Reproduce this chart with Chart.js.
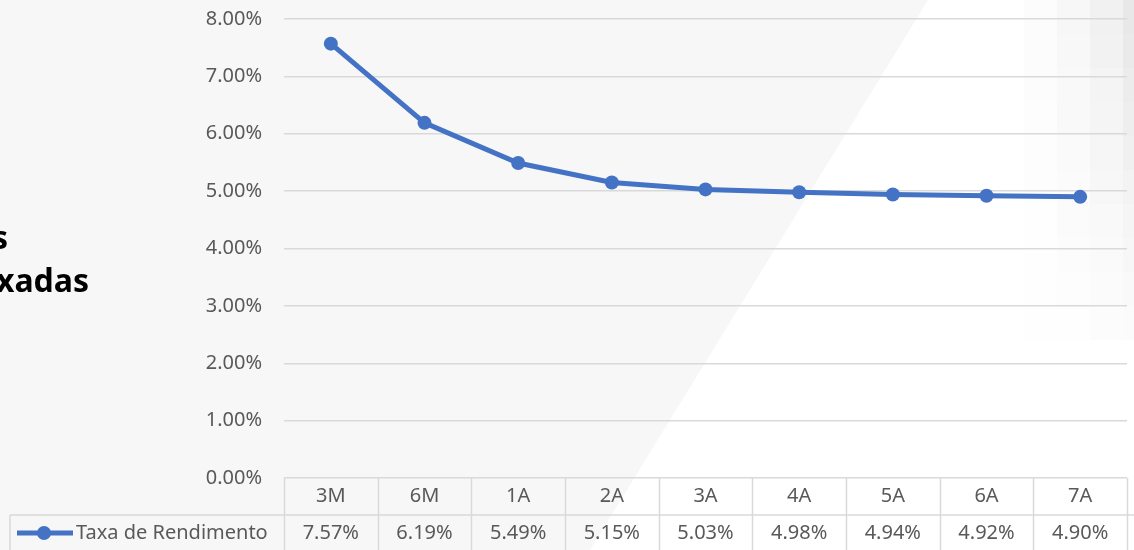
<!DOCTYPE html>
<html>
<head>
<meta charset="utf-8">
<script src="https://cdn.jsdelivr.net/npm/chart.js@4/dist/chart.umd.min.js"></script>
<style>
html,body{margin:0;padding:0;background:#f7f7f7;}
#wrap{width:1134px;height:550px;position:relative;}
</style>
</head>
<body>
<div id="wrap"><canvas id="c" width="1134" height="550"></canvas></div>
<script>
const categories = ['3M','6M','1A','2A','3A','4A','5A','6A','7A'];
const rates = [7.57, 6.19, 5.49, 5.15, 5.03, 4.98, 4.94, 4.92, 4.90];
const seriesName = 'Taxa de Rendimento';
const titleLines = ['Taxas', 'Prefixadas'];

const FONT = '"Noto Sans", sans-serif';
const TEXT = '#595959';
const GRID = '#d9d9d9';
const LINE = '#4472C4';

const bgPlugin = {
  id: 'bg',
  beforeDraw(chart) {
    const ctx = chart.ctx, W = chart.width, H = chart.height;
    ctx.save();
    ctx.fillStyle = '#f7f7f7';
    ctx.fillRect(0, 0, W, H);
    ctx.fillStyle = '#ffffff';
    ctx.beginPath();
    ctx.moveTo(928, 0);
    ctx.lineTo(W, 0);
    ctx.lineTo(W, H);
    ctx.lineTo(590, H);
    ctx.closePath();
    ctx.fill();
    // soft blocky shading at the top right
    const colA = [0.012, 0.03, 0.055, 0.09];
    for (let c = 0; c < 4; c++) {
      for (let r = 0; r < 10; r++) {
        const a = colA[c] * Math.max(0, 1 - r / 11);
        ctx.fillStyle = 'rgba(0,0,0,' + a.toFixed(3) + ')';
        const x0 = 1024 + 33 * c;
        ctx.fillRect(x0, 34 * r, c === 3 ? W - x0 : 33, 34);
      }
    }
    // title fragments (cut off at left edge)
    ctx.fillStyle = '#000000';
    let size = 27;
    ctx.font = 'bold ' + size + 'px "Noto Sans", sans-serif';
    const w = ctx.measureText('xadas').width;
    size = size * 93 / w;
    ctx.font = 'bold ' + size.toFixed(1) + 'px "Noto Sans", sans-serif';
    ctx.textAlign = 'right';
    ctx.textBaseline = 'middle';
    ctx.fillText(titleLines[0], 8, 240);
    ctx.fillText(titleLines[1], 89, 283);
    ctx.restore();
  }
};

const tablePlugin = {
  id: 'dataTable',
  afterDraw(chart) {
    const ctx = chart.ctx, xs = chart.scales.x, area = chart.chartArea;
    const top = area.bottom, mid = 515, bot = chart.height;
    const n = categories.length;
    const half = (xs.getPixelForValue(1) - xs.getPixelForValue(0)) / 2;
    ctx.save();
    ctx.strokeStyle = GRID;
    ctx.lineWidth = 1.5;
    ctx.beginPath();
    ctx.moveTo(10, mid); ctx.lineTo(chart.width, mid);
    ctx.moveTo(10, mid); ctx.lineTo(10, bot);
    for (let i = 0; i <= n; i++) {
      const px = Math.round(xs.getPixelForValue(i) - half) + 0.5;
      ctx.moveTo(px, top); ctx.lineTo(px, bot);
    }
    ctx.stroke();
    ctx.fillStyle = TEXT;
    ctx.font = '20px ' + FONT;
    ctx.textAlign = 'center';
    ctx.textBaseline = 'middle';
    rates.forEach((v, i) => {
      ctx.fillText(v.toFixed(2) + '%', xs.getPixelForValue(i), 533);
    });
    // legend key
    ctx.strokeStyle = LINE;
    ctx.lineWidth = 5;
    ctx.beginPath();
    ctx.moveTo(17, 533); ctx.lineTo(73, 533);
    ctx.stroke();
    ctx.fillStyle = LINE;
    ctx.beginPath();
    ctx.arc(44, 533, 7, 0, Math.PI * 2);
    ctx.fill();
    ctx.fillStyle = TEXT;
    ctx.textAlign = 'left';
    ctx.fillText(seriesName, 76, 533);
    ctx.restore();
  }
};

new Chart(document.getElementById('c'), {
  type: 'line',
  data: {
    labels: categories,
    datasets: [{
      label: seriesName,
      data: rates,
      borderColor: LINE,
      backgroundColor: LINE,
      borderWidth: 5,
      pointRadius: 7,
      pointHoverRadius: 7,
      pointBackgroundColor: LINE,
      pointBorderWidth: 0,
      tension: 0,
      clip: false
    }]
  },
  options: {
    responsive: false,
    animation: false,
    events: [],
    layout: { padding: { top: 19, right: 0, bottom: 0, left: 0 } },
    plugins: { legend: { display: false }, tooltip: { enabled: false }, title: { display: false } },
    scales: {
      x: {
        offset: true,
        grid: { display: false, drawTicks: false },
        border: { display: false },
        ticks: { color: TEXT, font: { family: '"Noto Sans", sans-serif', size: 20 }, padding: 6, maxRotation: 0, autoSkip: false },
        afterFit(s) { s.height = 72; }
      },
      y: {
        min: 0, max: 8,
        ticks: { stepSize: 1, color: TEXT, font: { family: '"Noto Sans", sans-serif', size: 20 }, padding: 22,
          callback: v => v.toFixed(2) + '%' },
        grid: { color: GRID, lineWidth: 1.5, drawTicks: false },
        border: { display: false },
        afterFit(s) { s.width = 284; s.paddingTop = 12; s.paddingBottom = 0; }
      }
    }
  },
  plugins: [bgPlugin, tablePlugin]
});
</script>
</body>
</html>
